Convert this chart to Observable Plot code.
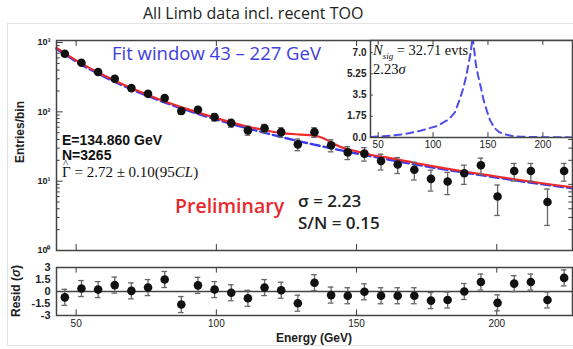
<!DOCTYPE html>
<html><head><meta charset="utf-8">
<script src="https://cdn.jsdelivr.net/npm/d3@7"></script>
<script src="https://cdn.jsdelivr.net/npm/@observablehq/plot@0.6"></script>
<style>
body{margin:0;background:#fff;}
#root{position:relative;width:573px;height:349px;overflow:hidden;font-family:"Liberation Sans",Arial,sans-serif;background:#fff;}
.abs{position:absolute;white-space:nowrap;line-height:1;}
svg{position:absolute;}
.hat{position:relative;display:inline-block;}
.hat::after{content:"^";position:absolute;left:1px;top:-7px;font-size:11px;font-style:normal;}
</style></head><body><div id="root"></div>
<script>
// ---- data ----
const binCenters = [45.97,51.90,57.84,63.77,69.71,75.64,81.58,87.51,93.45,99.38,105.32,111.25,117.19,123.12,129.06,134.99,140.93,146.86,152.80,158.73,164.67,170.60,176.54,182.47,188.41,194.34,200.28,206.21,212.15,218.08,224.02];
const counts = [690,510,375,300,220,182,158,103,107,84,69,54,58,51,34,51,33,26,25,19.5,17.4,14.6,10.8,9.9,13,17,6.0,14,14,5.0,14];
const countErr = [30,26,22,19,17,15,14,11,11,10,9,8,8,8,6.5,8,6.5,5.5,5.5,5,4.5,4.2,3.6,3.5,4,4.5,2.8,4,4,2.7,4];
const residuals = [-0.73,0.37,0.24,0.8,0.08,0.49,1.5,-1.63,0.77,0.24,-0.16,-0.85,0.49,0.16,-1.46,1.1,-0.45,-0.53,-0.04,-0.53,-0.53,-0.53,-1.14,-1.06,0,1.18,-1.42,0.98,1.18,-1.06,1.7];
const residualErr = [1,1,1,1,1,1,1,1,1,1,1,1,1,1,1,1,1,1,1,1,1,1,1,1,1,1,1,1,1,1,1];

const bkgE = [43,50,60,70,80,90,100,110,120,130,140,150,160,170,180,190,200,210,220,227];
const bkgV = [810,532,321,209,144,104,77.5,59.4,46.7,37.3,30.4,25.1,21.0,17.7,15.1,13.0,11.3,9.8,8.6,7.9];
const fitE = [43,50,60,70,80,90,100,110,115,120,125,130,135,138,141,145,150,155,160,170,180,190,200,210,220,227];
const fitV = [810,535,323,210,145,105,78.5,61,55,50,47,45.5,44,40.5,35,29.5,26,23.3,21.5,18,15.2,13,11.3,9.8,8.6,7.9];

const sigE = [43,55,73,88.5,104,114.5,120,123.7,127,129.8,132,134.4,136,137.5,139,141,143.6,146,149,152,155.8,160,165,172,180,200,227];
const sigV = [0.05,0.1,0.27,0.55,0.96,1.5,2.1,3.0,3.9,4.9,5.9,7.1,8.3,7.2,6.0,5.1,4.1,3.1,2.2,1.4,0.8,0.45,0.27,0.13,0.07,0.02,0.01];

const xTicks = [50,100,150,200];
const yMainTicks = [1,10,100,1000];
const yMainTickLabels = ["10⁰","10¹","10²","10³"];
const yResTicks = [-3,-1.5,0,1.5,3];
const yResTickLabels = ["-3","-1.5","0","1.5","3"];
const yInsetTicks = [0,1.75,3.5,5.25,7];
const yInsetTickLabels = ["0.0","1.75","3.5","5.25","7.0"];

// ---- tables built from arrays ----
const pts = binCenters.map((e,i)=>({e, v:counts[i], lo:counts[i]-countErr[i], hi:counts[i]+countErr[i], r:residuals[i], rlo:residuals[i]-residualErr[i], rhi:residuals[i]+residualErr[i]}));
const bkg = bkgE.map((e,i)=>({e, v:bkgV[i]}));
const fit = fitE.map((e,i)=>({e, v:fitV[i]}));
const sig = sigE.map((e,i)=>({e, v:sigV[i]}));
const minorLog = [];
for (const d of [1,10,100]) for (let k=2;k<=9;k++) minorLog.push(d*k);

const root = document.getElementById("root");
const axisCol = "#3a3a3a";
const baseStyle = {fontFamily:"Liberation Sans, Arial, sans-serif", color:"#222", background:"transparent", overflow:"visible"};

// outer faint border
const border = document.createElement("div");
border.className="abs";
Object.assign(border.style,{left:"7px",top:"23px",width:"570px",height:"321px",border:"1px solid #e2e2e2"});
root.appendChild(border);

// ---- main panel ----
const X0=43, X1=227;
const main = Plot.plot({
  width:573, height:260, marginTop:40, marginBottom:10, marginLeft:56, marginRight:1,
  x:{domain:[X0,X1], axis:null},
  y:{type:"log", domain:[1,1070], axis:null},
  style:{...baseStyle, fontSize:"9px"},
  marks:[
    Plot.axisY({ticks:yMainTicks, tickSize:0, tickPadding:6, tickFormat:(d)=>yMainTickLabels[yMainTicks.indexOf(d)], fontWeight:"bold", label:null}),
    Plot.ruleY(minorLog, {y:d=>d, x1:X0, x2:X0+1.3, stroke:axisCol, strokeWidth:1}),
    Plot.ruleY(yMainTicks, {y:d=>d, x1:X0, x2:X0+2.4, stroke:axisCol, strokeWidth:1}),
    Plot.ruleY(minorLog, {y:d=>d, x1:X1-1.3, x2:X1, stroke:axisCol, strokeWidth:1}),
    Plot.ruleX(xTicks, {x:d=>d, y1:1, y2:1.22, stroke:axisCol, strokeWidth:1}),
    Plot.ruleX(xTicks, {x:d=>d, y1:1070/1.22, y2:1070, stroke:axisCol, strokeWidth:1}),
    Plot.line(bkg, {x:"e", y:"v", stroke:"#3b3bf0", strokeWidth:2.4, strokeDasharray:"9,4", curve:"monotone-x"}),
    Plot.line(fit, {x:"e", y:"v", stroke:"#ee2b2b", strokeWidth:2.2, dy:-1, curve:"monotone-x"}),
    Plot.ruleX(pts, {x:"e", y1:"lo", y2:"hi", stroke:"#666", strokeWidth:1.3}),
    Plot.ruleY(pts, {y:"lo", x1:d=>d.e-1, x2:d=>d.e+1, stroke:"#666", strokeWidth:1.3}),
    Plot.ruleY(pts, {y:"hi", x1:d=>d.e-1, x2:d=>d.e+1, stroke:"#666", strokeWidth:1.3}),
    Plot.dot(pts, {x:"e", y:"v", r:4.3, fill:"#111", stroke:"none"}),
    Plot.frame({stroke:"#444", strokeWidth:1.5})
  ]
});
main.style.left="0px"; main.style.top="0px";
root.appendChild(main);

// ---- residual panel ----
const res = Plot.plot({
  width:573, height:89, marginTop:7, marginBottom:34, marginLeft:56, marginRight:1,
  x:{domain:[X0,X1], axis:null},
  y:{domain:[-3,3], axis:null},
  style:{...baseStyle, fontSize:"10px"},
  marks:[
    Plot.axisY({ticks:yResTicks, tickSize:0, tickPadding:6, tickFormat:(d)=>yResTickLabels[yResTicks.indexOf(d)], fontWeight:"bold", fontSize:11, label:null}),
    Plot.axisX({ticks:xTicks, tickSize:0, tickPadding:4, tickFormat:(d)=>String(d), label:null}),
    Plot.ruleX(xTicks, {x:d=>d, y1:-3, y2:-2.3, stroke:axisCol}),
    Plot.ruleX(xTicks, {x:d=>d, y1:2.3, y2:3, stroke:axisCol}),
    Plot.ruleY([0], {stroke:"#444", strokeWidth:1.5}),
    Plot.ruleX(pts, {x:"e", y1:"rlo", y2:"rhi", stroke:"#666", strokeWidth:1.3}),
    Plot.ruleY(pts, {y:"rlo", x1:d=>d.e-1, x2:d=>d.e+1, stroke:"#666", strokeWidth:1.3}),
    Plot.ruleY(pts, {y:"rhi", x1:d=>d.e-1, x2:d=>d.e+1, stroke:"#666", strokeWidth:1.3}),
    Plot.dot(pts, {x:"e", y:"r", r:4.3, fill:"#111", stroke:"none"}),
    Plot.frame({stroke:"#444", strokeWidth:1.5})
  ]
});
res.style.left="0px"; res.style.top="260px";
root.appendChild(res);

// ---- inset ----
const inset = Plot.plot({
  width:233, height:125, marginTop:10, marginBottom:18, marginLeft:30, marginRight:1,
  x:{domain:[X0,X1], axis:null},
  y:{domain:[0,8], axis:null},
  style:{...baseStyle, fontSize:"10px"},
  marks:[
    Plot.frame({fill:"white", stroke:"none"}),
    Plot.axisY({ticks:yInsetTicks, tickSize:0, tickPadding:4, tickFormat:(d)=>yInsetTickLabels[yInsetTicks.indexOf(d)], fontWeight:"bold", label:null}),
    Plot.axisX({ticks:xTicks, tickSize:0, tickPadding:3, tickFormat:(d)=>String(d), label:null}),
    Plot.ruleY(yInsetTicks, {y:d=>d, x1:X0, x2:X0+2.5, stroke:axisCol}),
    Plot.ruleX(xTicks, {x:d=>d, y1:0, y2:0.4, stroke:axisCol}),
    Plot.ruleX(xTicks, {x:d=>d, y1:7.6, y2:8, stroke:axisCol}),
    Plot.line(sig, {x:"e", y:"v", stroke:"#4d4de8", strokeWidth:2, strokeDasharray:"7,5", clip:true}),
    Plot.frame({stroke:"#444", strokeWidth:1.5})
  ]
});
inset.style.left="340px"; inset.style.top="30px";
root.appendChild(inset);

// ---- text annotations ----
function txt(html, left, top, css){
  const d=document.createElement("div"); d.className="abs"; d.innerHTML=html;
  d.style.left=left+"px"; d.style.top=top+"px"; Object.assign(d.style, css||{});
  root.appendChild(d); return d;
}
txt("All Limb data incl. recent TOO", 143, 5, {fontFamily:"Open Sans, sans-serif", fontSize:"16px", color:"#222"});
txt("Fit window 43 – 227 GeV", 112, 44, {fontFamily:"Open Sans, sans-serif", fontSize:"18.5px", color:"#3d3de0"});
txt("E=134.860 GeV", 62, 133, {fontSize:"14px", color:"#111", fontWeight:"bold"});
txt("N=3265", 62, 148, {fontSize:"14px", color:"#111", fontWeight:"bold"});
txt("<span class='hat'>Γ</span> = 2.72 ± 0.10(95<i>CL</i>)", 62, 165, {fontFamily:"Liberation Serif, serif", fontSize:"15px", color:"#111"});
txt("Preliminary", 175, 196, {fontFamily:"Open Sans, sans-serif", fontSize:"19.5px", fontWeight:"600", color:"#e8282c"});
txt("σ = 2.23", 298, 192, {fontFamily:"Open Sans, sans-serif", fontSize:"17px", fontWeight:"600", color:"#222"});
txt("S/N = 0.15", 298, 214, {fontFamily:"Open Sans, sans-serif", fontSize:"17px", fontWeight:"600", color:"#222"});
txt("<i>N</i><sub style='font-size:9px'><i>sig</i></sub> = 32.71 evts", 373, 43, {fontFamily:"Liberation Serif, serif", fontSize:"14.5px", color:"#111"});
txt("2.23<i>σ</i>", 373, 62, {fontFamily:"Liberation Serif, serif", fontSize:"14.5px", color:"#111"});
// axis titles
txt("Entries/bin", 20, 132, {fontSize:"12px", fontWeight:"bold", color:"#222", transform:"translate(-50%,-50%) rotate(-90deg)"});
txt("Resid (<i>σ</i>)", 16, 291, {fontSize:"12px", fontWeight:"bold", color:"#222", transform:"translate(-50%,-50%) rotate(-90deg)"});
txt("Energy (GeV)", 314, 338, {fontSize:"12px", fontWeight:"bold", color:"#222", transform:"translate(-50%,-50%)"});
</script></body></html>
